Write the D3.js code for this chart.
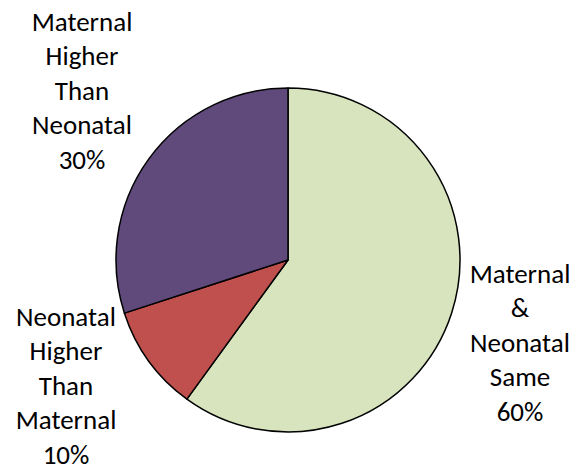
<!DOCTYPE html>
<html>
<head>
<meta charset="utf-8">
<script src="https://cdn.jsdelivr.net/npm/d3@7"></script>
<style>
  body { margin: 0; background: #fff; }
  text { font-family: Carlito, Calibri, Lato, "Open Sans", sans-serif; fill: #000; }
</style>
</head>
<body>
<script>
var categories = ["Maternal & Neonatal Same", "Neonatal Higher Than Maternal", "Maternal Higher Than Neonatal"];
var values = [60, 10, 30];
var colors = ["#D7E4BD", "#C0504D", "#604A7B"];

var width = 575, height = 466;
var cx = 288, cy = 260, radius = 172;

// label block centres (x) and first baseline (y), one per category
var labelAnchor = [[520, 283], [66, 326], [82, 31]];
var lineGap = 34.4;

var format = function(v) { return v + "%"; };

var svg = d3.select("body")
    .append("svg")
    .attr("width", width)
    .attr("height", height);

var pie = d3.pie().sort(null).value(function(d) { return d; });
var arc = d3.arc().innerRadius(0).outerRadius(radius);

var g = svg.append("g")
    .attr("transform", "translate(" + cx + "," + cy + ")");

g.selectAll("path")
    .data(pie(values))
    .enter().append("path")
    .attr("d", arc)
    .style("fill", function(d, i) { return colors[i]; })
    .style("stroke", "#000")
    .style("stroke-width", 1.5)
    .style("stroke-linejoin", "round");

var labels = svg.append("g").attr("class", "labels");

categories.forEach(function(c, i) {
    var lines = c.split(" ").concat([format(values[i])]);
    var t = labels.append("text")
        .attr("text-anchor", "middle")
        .style("font-size", "27px");
    lines.forEach(function(l, j) {
        t.append("tspan")
            .attr("x", labelAnchor[i][0])
            .attr("y", labelAnchor[i][1] + j * lineGap)
            .text(l);
    });
});
</script>
</body>
</html>
